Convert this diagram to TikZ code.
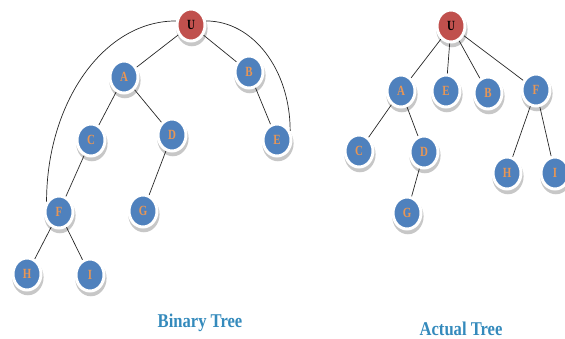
\documentclass[tikz,border=0pt]{standalone}
\usepackage{fontspec}
\setmainfont{Liberation Serif}
\usetikzlibrary{shapes.geometric,shadows}
\definecolor{nodeblue}{RGB}{79,129,189}
\definecolor{nodered}{RGB}{192,80,77}
\definecolor{lettercol}{RGB}{232,150,85}
\definecolor{titlecol}{RGB}{52,138,188}
\tikzset{
  tnode/.style={ellipse, minimum width=28pt, minimum height=32pt, inner sep=0pt,
    fill=nodeblue, draw=white, line width=3pt,
    drop shadow={shadow xshift=0.8pt, shadow yshift=-3pt, shadow scale=1.12, fill=gray!55, opacity=0.8},
    text=lettercol, font=\fontsize{14}{14}\selectfont\bfseries},
  rnode/.style={tnode, fill=nodered, text=black},
  edge/.style={line width=0.7pt, draw=black!85},
  title/.style={text=titlecol, font=\fontsize{19.5}{19.5}\selectfont\bfseries, anchor=base, inner sep=0pt}
}
\newcommand{\lbl}[1]{\scalebox{0.78}[1]{#1}}
\begin{document}
\begin{tikzpicture}[x=1pt,y=-1pt]
\useasboundingbox (0,0) rectangle (565,338);
% Binary tree
\node[rnode] (U) at (191,25) {\lbl{U}};
\node[tnode] (A) at (124,77) {\lbl{A}};
\node[tnode] (B) at (249,72) {\lbl{B}};
\node[tnode] (C) at (91,140) {\lbl{C}};
\node[tnode] (D) at (172,135) {\lbl{D}};
\node[tnode] (E) at (277,140) {\lbl{E}};
\node[tnode] (F) at (59,212) {\lbl{F}};
\node[tnode] (G) at (143,211) {\lbl{G}};
\node[tnode] (H) at (27,274) {\lbl{H}};
\node[tnode] (I) at (90,275) {\lbl{I}};
\draw[edge] (U) -- (A);
\draw[edge] (U) -- (B);
\draw[edge] (A) -- (C);
\draw[edge] (A) -- (D);
\draw[edge] (B) -- (E);
\draw[edge] (C) -- (F);
\draw[edge] (D) -- (G);
\draw[edge] (F) -- (H);
\draw[edge] (F) -- (I);
\draw[edge] (U.165) to[out=180,in=90,out distance=73pt,in distance=98pt] (F.140);
\draw[edge] (U.15) to[out=0,in=90,out distance=47pt,in distance=61pt] (E.35);
\node[title] (t1) at (200,327) {\scalebox{0.85}[1]{Binary Tree}};
% Actual tree
\node[rnode] (U2) at (451,26) {\lbl{U}};
\node[tnode] (A2) at (401,91) {\lbl{A}};
\node[tnode] (E2) at (446,91) {\lbl{E}};
\node[tnode] (B2) at (488,93) {\lbl{B}};
\node[tnode] (F2) at (536,90) {\lbl{F}};
\node[tnode] (C2) at (359,151) {\lbl{C}};
\node[tnode] (D2) at (424,152) {\lbl{D}};
\node[tnode] (G2) at (407,213) {\lbl{G}};
\node[tnode] (H2) at (507,173) {\lbl{H}};
\node[tnode] (I2) at (555,173) {\lbl{I}};
\draw[edge] (U2) -- (A2);
\draw[edge] (U2) -- (E2);
\draw[edge] (U2) -- (B2);
\draw[edge] (U2) -- (F2);
\draw[edge] (A2) -- (C2);
\draw[edge] (A2) -- (D2);
\draw[edge] (D2) -- (G2);
\draw[edge] (F2) -- (H2);
\draw[edge] (F2) -- (I2);
\node[title] (t2) at (461,335) {\scalebox{0.85}[1]{Actual Tree}};
\end{tikzpicture}
\end{document}
